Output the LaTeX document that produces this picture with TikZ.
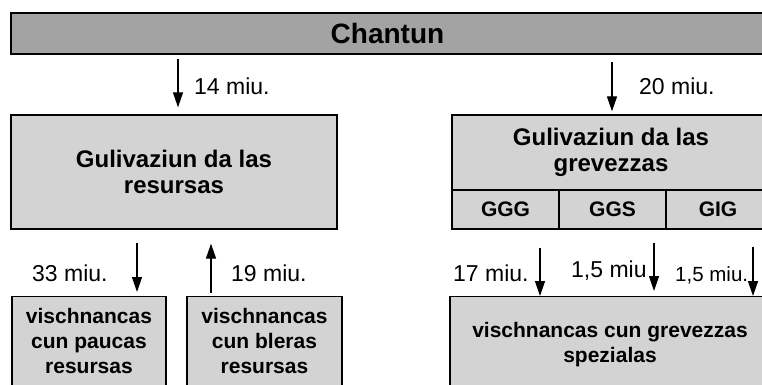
\documentclass[tikz,border=0pt]{standalone}
\usepackage{fontspec}
\setmainfont{Liberation Sans}
\usetikzlibrary{arrows.meta}
\definecolor{boxgray}{HTML}{D3D3D3}
\definecolor{headgray}{HTML}{A3A3A3}
\begin{document}
\begin{tikzpicture}[x=1pt,y=-1pt,
 box/.style={draw,line width=1.3pt,fill=boxgray,align=center,inner sep=0pt},
 topbox/.style={box,font=\fontsize{24}{26}\selectfont\bfseries},
 cellbox/.style={box,minimum height=39pt,font=\fontsize{21}{21}\selectfont\bfseries},
 lowbox/.style={box,anchor=north,text depth=90pt,font=\fontsize{21}{25}\selectfont\bfseries},
 lbl/.style={anchor=west,inner sep=0pt,font=\fontsize{23}{23}\selectfont},
 arr/.style={line width=1.3pt,-{Triangle[length=15pt,width=10pt]}}]
 \useasboundingbox (0,0) rectangle (762,385);
 \clip (0,0) rectangle (762,385);
 \node[draw,line width=2.3pt,fill=headgray,minimum width=753pt,minimum height=41pt,font=\fontsize{28}{28}\selectfont\bfseries] (chantun) at (387.5,33.5) {Chantun};
 \node[topbox,minimum width=326pt,minimum height=114pt] (gulres) at (174,172) {Gulivaziun da las\\resursas};
 \node[topbox,minimum width=318pt,minimum height=75pt] (gulgrev) at (611,152.5) {Gulivaziun da las\\grevezzas};
 \node[cellbox,minimum width=107pt] (ggg) at (505.5,209.5) {GGG};
 \node[cellbox,minimum width=107pt] (ggs) at (612.5,209.5) {GGS};
 \node[cellbox,minimum width=104pt] (gig) at (718,209.5) {GIG};
 \node[lowbox,minimum width=154pt,inner ysep=12pt] (paucas) at (89,296) {vischnancas\\cun paucas\\resursas};
 \node[lowbox,minimum width=155pt,inner ysep=12pt] (bleras) at (264.5,296) {vischnancas\\cun bleras\\resursas};
 \node[lowbox,minimum width=320pt,inner ysep=26pt] (spez) at (610,296) {vischnancas cun grevezzas\\spezialas};
 \coordinate (x1) at (178,0);
 \coordinate (x2) at (612,0);
 \coordinate (x3) at (137,0);
 \coordinate (x4) at (211,0);
 \coordinate (x5) at (540,0);
 \coordinate (x6) at (654,0);
 \coordinate (x7) at (753,0);
 \draw[arr,shorten <=4pt,shorten >=7pt] (chantun.south -| x1) -- (gulres.north -| x1);
 \draw[arr,shorten <=7pt,shorten >=3pt] (chantun.south -| x2) -- (gulgrev.north -| x2);
 \draw[arr,shorten <=13pt,shorten >=4pt] (gulres.south -| x3) -- (paucas.north -| x3);
 \draw[arr,shorten <=3pt,shorten >=14pt] (bleras.north -| x4) -- (gulres.south -| x4);
 \draw[arr,shorten <=18pt] (ggg.south -| x5) -- (spez.north -| x5);
 \draw[arr,shorten <=13pt,shorten >=5pt] (ggs.south -| x6) -- (spez.north -| x6);
 \draw[arr,shorten <=17pt] (gig.south -| x7) -- (spez.north -| x7);
 \node[lbl] (l14) at (194,86) {14 miu.};
 \node[lbl] (l20) at (639,86) {20 miu.};
 \node[lbl] (l33) at (32,273) {33 miu.};
 \node[lbl] (l19) at (231,273) {19 miu.};
 \node[lbl] (l17) at (453,273) {17 miu.};
 \node[lbl] (l15a) at (571,271) {1,5 miu};
 \node[lbl,font=\fontsize{20.5}{20.5}\selectfont] (l15b) at (675,275) {1,5 miu.};
\end{tikzpicture}
\end{document}
